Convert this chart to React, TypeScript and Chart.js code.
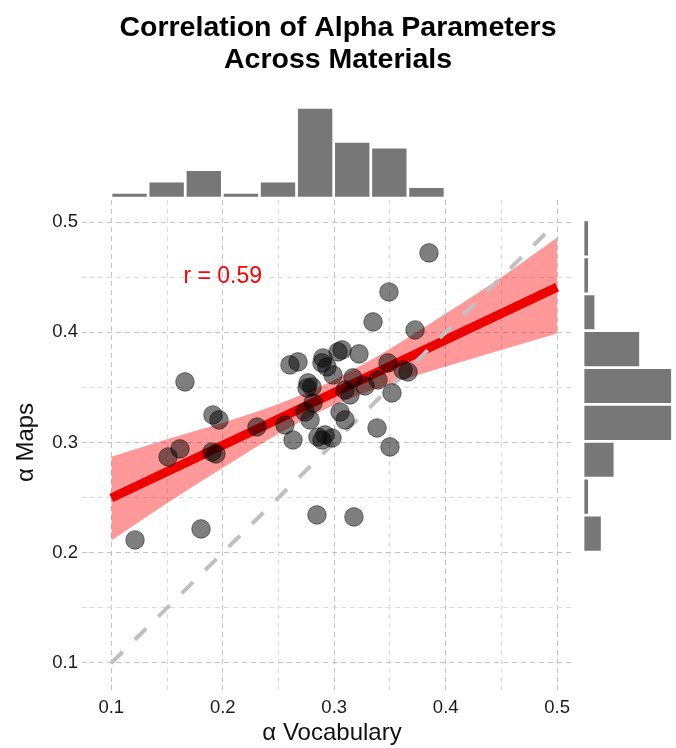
import React, { useEffect, useRef } from "react";
import { Chart, registerables } from "chart.js";

Chart.register(...registerables);

const FONT = "'Liberation Sans', Arial, Helvetica, sans-serif";
Chart.defaults.font.family = FONT;

// ---- data ----
const vocabAlpha = [
  0.1213, 0.1805, 0.1661, 0.1912, 0.1966, 0.1509, 0.1616, 0.1939, 0.2307, 0.385,
  0.3491, 0.3348, 0.3725, 0.2603, 0.2675, 0.2899, 0.289, 0.2935, 0.3034, 0.307,
  0.3222, 0.2989, 0.2765, 0.2801, 0.2756, 0.3168, 0.3393, 0.3482, 0.3617, 0.3662,
  0.3097, 0.3518, 0.281, 0.2783, 0.2738, 0.2558, 0.3097, 0.263, 0.2854, 0.2917,
  0.298, 0.3384, 0.35, 0.2845, 0.3177, 0.1903, 0.289, 0.3141, 0.3052, 0.3276,
];
const mapsAlpha = [
  0.2116, 0.2216, 0.355, 0.325, 0.3205, 0.2869, 0.2942, 0.2896, 0.3141, 0.472,
  0.4366, 0.4094, 0.4021, 0.3704, 0.3731, 0.3767, 0.3722, 0.3686, 0.3822, 0.384,
  0.3804, 0.3613, 0.3541, 0.3504, 0.3495, 0.3586, 0.3568, 0.3722, 0.3658, 0.364,
  0.3477, 0.345, 0.3359, 0.3205, 0.3277, 0.3159, 0.3205, 0.3023, 0.305, 0.3069,
  0.3041, 0.3132, 0.296, 0.2343, 0.2325, 0.2914, 0.3023, 0.3432, 0.3277, 0.3513,
];

const fitX = [0.1, 0.5];
const fitY = [0.2497, 0.441];

const bandX = [0.1, 0.15, 0.2, 0.25, 0.3, 0.35, 0.4, 0.45, 0.5];
const bandLower = [0.211, 0.245, 0.277, 0.308, 0.334, 0.353, 0.369, 0.384, 0.399];
const bandUpper = [0.287, 0.303, 0.318, 0.335, 0.357, 0.385, 0.417, 0.45, 0.486];

const diagX = [0.1, 0.5];
const diagY = [0.1, 0.5];

const tickValues = [0.1, 0.15, 0.2, 0.25, 0.3, 0.35, 0.4, 0.45, 0.5];

const corrLabel = "r = 0.59";
const corrPos = [0.2, 0.4505];

const topHistBins = [
  "0.100-0.133", "0.133-0.167", "0.167-0.200", "0.200-0.233", "0.233-0.267",
  "0.267-0.300", "0.300-0.333", "0.333-0.367", "0.367-0.400",
];
const topHistCounts = [1, 3, 5, 1, 3, 16, 10, 9, 2];

const rightHistBins = [
  "0.467-0.500", "0.433-0.467", "0.400-0.433", "0.367-0.400", "0.333-0.367",
  "0.300-0.333", "0.267-0.300", "0.233-0.267", "0.200-0.233",
];
const rightHistCounts = [1, 1, 2, 9, 14, 14, 5, 1, 3];

const titleLines = ["Correlation of Alpha Parameters", "Across Materials"];
const xTitle = "\u03b1 Vocabulary";
const yTitle = "\u03b1 Maps";

// ---- styling ----
const GRID_MAJOR = "#c2c2c2";
const GRID_MINOR = "#dcdcdc";
const HIST_FILL = "#777777";
const TITLE_SIZE = 28.5;
const TITLE_LH = 1.13;

const corrPlugin = {
  id: "corrLabel",
  afterDatasetsDraw(chart: any) {
    const { ctx, scales } = chart;
    ctx.save();
    ctx.font = `23px ${FONT}`;
    ctx.fillStyle = "#ff0000";
    ctx.textAlign = "center";
    ctx.textBaseline = "middle";
    ctx.fillText(corrLabel, scales.x.getPixelForValue(corrPos[0]), scales.y.getPixelForValue(corrPos[1]));
    ctx.restore();
  },
};

function axisCommon(min: number, max: number) {
  return {
    type: "linear" as const,
    min,
    max,
    afterBuildTicks: (scale: any) => {
      scale.ticks = tickValues.map((v) => ({ value: v }));
    },
    grid: {
      color: (c: any) => (c.index % 2 === 0 ? GRID_MAJOR : GRID_MINOR),
      tickColor: (c: any) => (c.index % 2 === 0 ? GRID_MAJOR : GRID_MINOR),
      lineWidth: 1,
      tickLength: 7,
      borderDash: [5, 4],
      tickBorderDash: [5, 4],
    },
    border: { display: false, dash: [5, 4] },
  };
}

function mainConfig(): any {
  const points = vocabAlpha.map((v, i) => ({ x: v, y: mapsAlpha[i] }));
  return {
    type: "scatter",
    data: {
      datasets: [
        {
          type: "scatter",
          data: points,
          pointRadius: 9.3,
          backgroundColor: "rgba(0,0,0,0.5)",
          borderColor: "rgba(0,0,0,0.45)",
          borderWidth: 1,
          xAxisID: "x",
          yAxisID: "y",
        },
        {
          type: "line",
          data: diagX.map((v, i) => ({ x: v, y: diagY[i] })),
          borderColor: "rgb(192,192,192)",
          borderWidth: 4,
          borderDash: [16, 17],
          pointRadius: 0,
          fill: false,
          xAxisID: "x",
          yAxisID: "y",
        },
        {
          type: "line",
          data: fitX.map((v, i) => ({ x: v, y: fitY[i] })),
          borderColor: "rgb(236,0,0)",
          borderWidth: 9,
          pointRadius: 0,
          fill: false,
          xAxisID: "x",
          yAxisID: "y",
        },
        {
          type: "line",
          data: bandX.map((v, i) => ({ x: v, y: bandUpper[i] })),
          borderColor: "rgba(0,0,0,0)",
          borderWidth: 0,
          pointRadius: 0,
          cubicInterpolationMode: "monotone",
          fill: "+1",
          backgroundColor: "rgba(255,0,0,0.4)",
          xAxisID: "x",
          yAxisID: "y",
        },
        {
          type: "line",
          data: bandX.map((v, i) => ({ x: v, y: bandLower[i] })),
          borderColor: "rgba(0,0,0,0)",
          borderWidth: 0,
          pointRadius: 0,
          cubicInterpolationMode: "monotone",
          fill: false,
          xAxisID: "x",
          yAxisID: "y",
        },
      ],
    },
    options: {
      responsive: false,
      animation: false,
      events: [],
      devicePixelRatio: 1,
      layout: { padding: 0 },
      plugins: {
        legend: { display: false },
        tooltip: { enabled: false },
        title: {
          display: true,
          text: titleLines,
          color: "#000",
          font: { size: TITLE_SIZE, weight: "bold", lineHeight: TITLE_LH, family: FONT },
          padding: { top: 12, bottom: 200 - 12 - 2 * TITLE_SIZE * TITLE_LH },
        },
      },
      scales: {
        x: {
          ...axisCommon(0.08, 0.516),
          position: "bottom",
          afterFit: (s: any) => {
            s.height = 63;
          },
          ticks: {
            autoSkip: false,
            maxRotation: 0,
            padding: 5,
            color: "#1a1a1a",
            font: { size: 18.5, family: FONT },
            callback: (v: any, i: number) => (i % 2 === 0 ? Number(v).toFixed(1) : ""),
          },
          title: {
            display: true,
            text: xTitle,
            color: "#111",
            font: { size: 24, family: FONT },
            padding: { top: 0, bottom: 0 },
          },
        },
        y: {
          ...axisCommon(0.08, 0.52),
          position: "left",
          afterFit: (s: any) => {
            s.width = 89;
          },
          ticks: {
            autoSkip: false,
            padding: 4,
            color: "#1a1a1a",
            font: { size: 18.5, family: FONT },
            callback: (v: any, i: number) => (i % 2 === 0 ? Number(v).toFixed(1) : ""),
          },
          title: {
            display: true,
            text: yTitle,
            color: "#111",
            font: { size: 24, family: FONT },
            padding: { top: 12, bottom: 0 },
          },
        },
        yr: {
          axis: "y",
          type: "linear",
          position: "right",
          display: true,
          grid: { display: false, drawTicks: false },
          border: { display: false },
          ticks: { display: false },
          afterFit: (s: any) => {
            s.width = 101;
          },
        },
      },
    },
    plugins: [corrPlugin],
  };
}

function histConfig(labels: string[], counts: number[], horizontal: boolean, maxVal: number): any {
  const valueScale = { display: false, min: 0, max: maxVal };
  const catScale = { display: false, offset: true };
  return {
    type: "bar",
    data: {
      labels,
      datasets: [
        {
          data: counts,
          backgroundColor: HIST_FILL,
          borderColor: "#ffffff",
          borderWidth: 1.7,
          borderSkipped: false,
          barPercentage: 1,
          categoryPercentage: 1,
        },
      ],
    },
    options: {
      indexAxis: horizontal ? "y" : "x",
      responsive: false,
      animation: false,
      events: [],
      devicePixelRatio: 1,
      layout: { padding: 0 },
      plugins: { legend: { display: false }, tooltip: { enabled: false }, title: { display: false } },
      scales: horizontal ? { x: valueScale, y: catScale } : { x: catScale, y: valueScale },
    },
  };
}

export default function App() {
  const mainRef = useRef<HTMLCanvasElement>(null);
  const topRef = useRef<HTMLCanvasElement>(null);
  const rightRef = useRef<HTMLCanvasElement>(null);

  useEffect(() => {
    const charts: Chart[] = [];
    if (mainRef.current) charts.push(new Chart(mainRef.current, mainConfig()));
    if (topRef.current) charts.push(new Chart(topRef.current, histConfig(topHistBins, topHistCounts, false, 17.3)));
    if (rightRef.current) charts.push(new Chart(rightRef.current, histConfig(rightHistBins, rightHistCounts, true, 14.55)));
    return () => charts.forEach((c) => c.destroy());
  }, []);

  return (
    <div style={{ position: "absolute", left: 0, top: 0, width: 676, height: 748, background: "#ffffff" }}>
      <canvas ref={mainRef} width={676} height={748} style={{ position: "absolute", left: 0, top: 0, width: 676, height: 748 }} />
      <canvas ref={topRef} width={334} height={98} style={{ position: "absolute", left: 111, top: 100, width: 334, height: 98 }} />
      <canvas ref={rightRef} width={93} height={332} style={{ position: "absolute", left: 583, top: 220, width: 93, height: 332 }} />
    </div>
  );
}
